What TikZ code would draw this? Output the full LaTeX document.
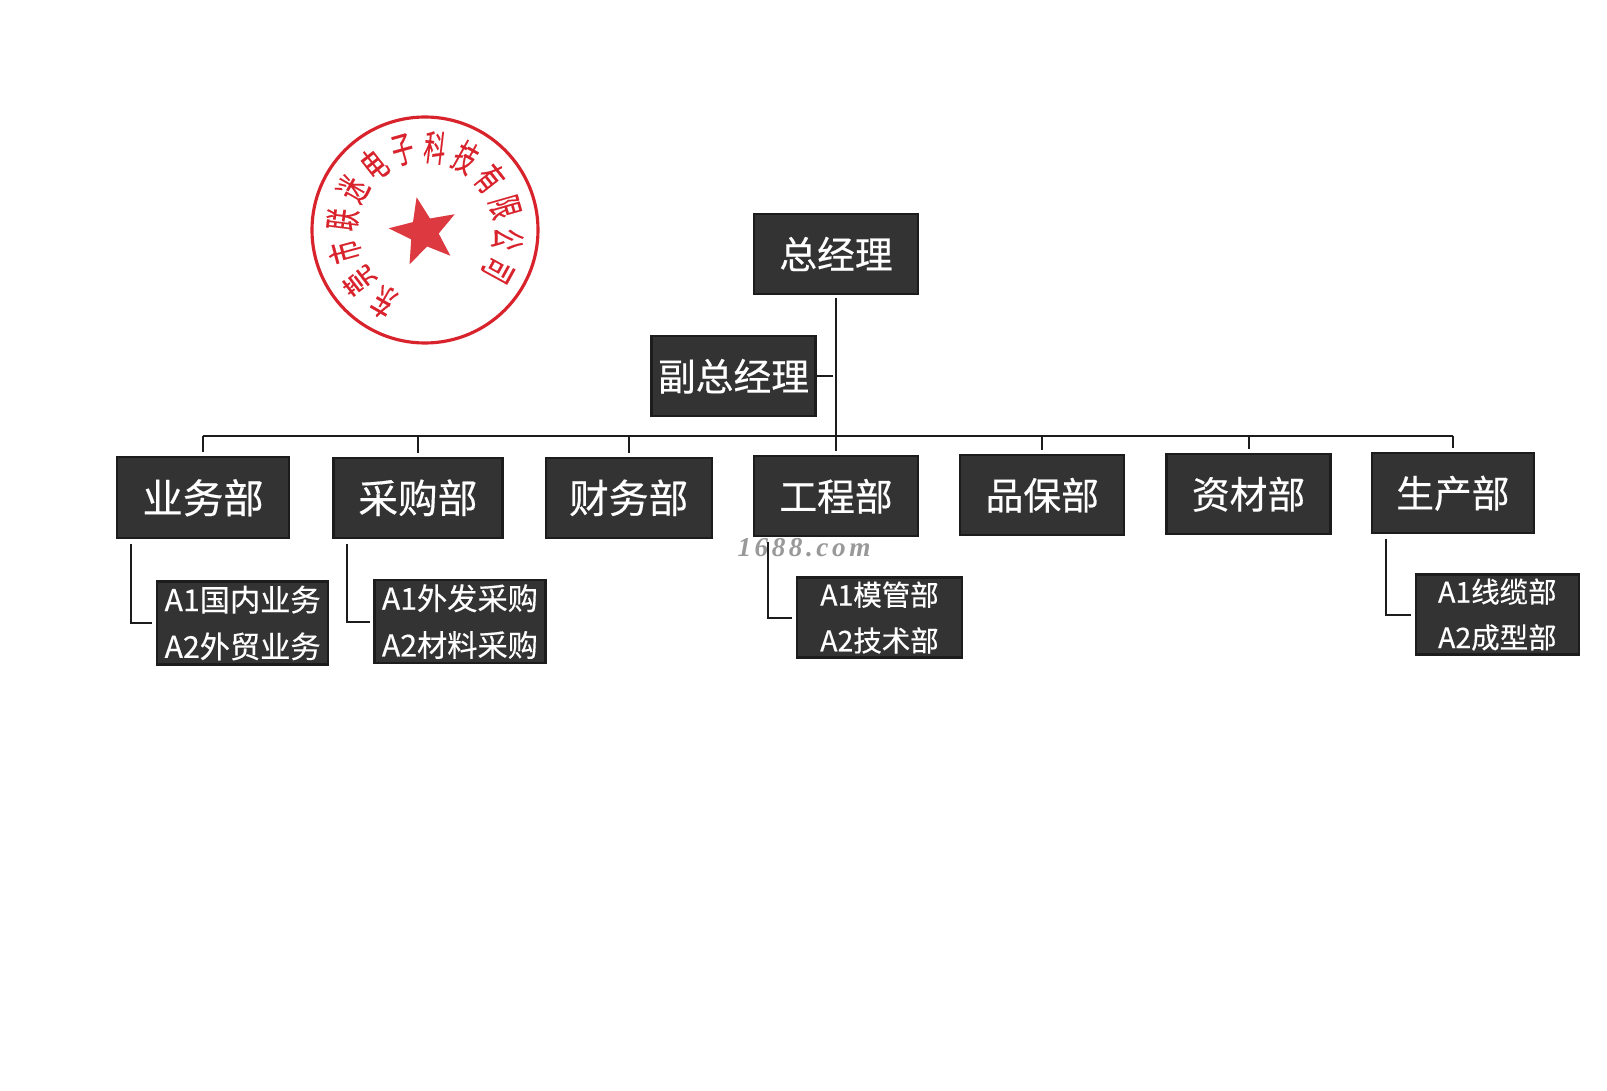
\documentclass[tikz,border=0pt]{standalone}
\usepackage{fontspec}
\setmainfont[FakeBold=0.4]{Noto Sans CJK SC}
\newfontfamily\markfont{Liberation Serif}
\usetikzlibrary{positioning,calc,shapes.geometric}

\definecolor{boxfill}{HTML}{333333}
\definecolor{boxline}{HTML}{1C1C1C}
\definecolor{sealred}{HTML}{D8232C}

\begin{document}
\begin{tikzpicture}[
  box/.style={draw=boxline, line width=1.3pt, fill=boxfill, text=white, minimum width=3.28cm, minimum height=1.6cm, inner sep=0pt, font=\fontsize{21.5}{26}\selectfont},
  bigbox/.style={box, font=\fontsize{22.6}{26}\selectfont},
  subbox/.style={box, minimum width=3.42cm, minimum height=1.66cm, align=center, font=\fontsize{17.2}{26.6}\selectfont},
  smallsub/.style={subbox, minimum width=3.26cm, minimum height=1.6cm, font=\fontsize{16.2}{26}\selectfont},
  link/.style={draw=boxline, line width=1.1pt},
  seal/.style={draw=sealred, line width=1.8pt, circle, minimum size=4.52cm, inner sep=0pt},
  sealchar/.style={text=sealred, inner sep=0pt, font=\fontsize{20.5}{21}\selectfont},
  node distance=0.8cm
]
\useasboundingbox (-16.72,5.08) rectangle (15.42,-16.72);

\node[box] (gm) {总经理};
\node[box, below=0.8cm of gm.south, xshift=-2.05cm] (vice) {副总经理};
\node[box, below=3.2cm of gm] (eng) {工程部};

% left of the trunk
\node[bigbox, left=of eng, yshift=-0.03cm, minimum width=3.32cm] (fin) {财务部};
\node[bigbox, left=0.82cm of fin, minimum width=3.38cm] (buy) {采购部};
\node[bigbox, left=0.84cm of buy, minimum width=3.44cm, minimum height=1.62cm, font=\fontsize{23}{26}\selectfont] (biz) {业务部};
% right of the trunk
\node[box, right=of eng, yshift=0.02cm] (qa) {品保部};
\node[box, right=0.8cm of qa, yshift=0.02cm] (mat) {资材部};
\node[box, right=0.78cm of mat, yshift=0.02cm, minimum width=3.24cm] (prod) {生产部};

\node[subbox, below right=0.82cm and 0.8cm of biz.south west] (bizsub) {A1国内业务\\A2外贸业务};
\node[subbox, below right=0.8cm and 0.82cm of buy.south west] (buysub) {A1外发采购\\A2材料采购};
\node[smallsub, below right=0.78cm and 0.86cm of eng.south west, minimum width=3.3cm] (engsub) {A1模管部\\A2技术部};
\node[smallsub, below right=0.78cm and 0.88cm of prod.south west] (prodsub) {A1线缆部\\A2成型部};

\node[below=0.02cm of eng.south, xshift=-0.64cm, text=black!40, inner sep=0pt, font=\markfont\bfseries\itshape\fontsize{15.5}{16}\selectfont\addfontfeature{LetterSpace=13}] (mark) {1688.com};

\coordinate (bus) at (0,-3.64);
\draw[link, shorten <=0.06cm, shorten >=0.08cm] (gm) -- (eng);
\draw[link, shorten <=0.06cm] (gm |- vice) -- (vice);
\draw[link] (biz.north |- bus) -- (prod.north |- bus);
\foreach \dept in {biz,buy,fin,qa,mat,prod}
  \draw[link, shorten >=0.08cm] (\dept.north |- bus) -- (\dept.north);

\foreach \dept in {biz,buy,eng,prod}
  \draw[link, shorten <=0.1cm, shorten >=0.07cm] ($(\dept.south west)+(0.3,0)$) |- (\dept sub.west);

% company seal
\node[seal] (stamp) at (-8.22,0.48) {};
\node[star, star points=5, star point ratio=2.4, fill=sealred!90!white, rotate=12, minimum size=1.42cm, inner sep=0pt] (sealstar) at ($(stamp.center)+(-0.02,-0.04)$) {};
\foreach \ch [count=\i from 0] in {东,莞,市,联,迷,电,子,科,技,有,限,公,司} {
  \pgfmathsetmacro\ang{240-22.4*\i}
  \node[sealchar, rotate=\ang-90] (sealch\i) at ($(stamp.center)+(\ang:1.66)$) {\scalebox{0.6}[1]{\ch}};
}
\end{tikzpicture}
\end{document}
